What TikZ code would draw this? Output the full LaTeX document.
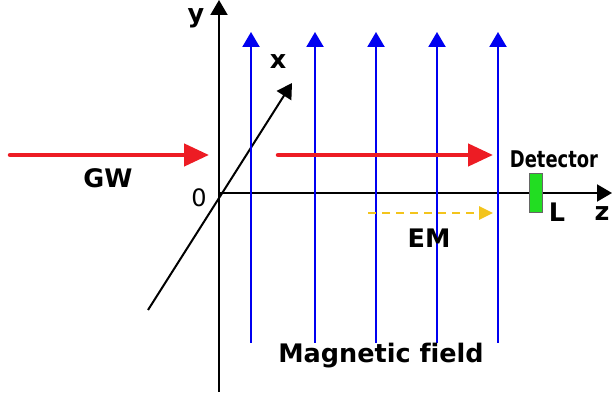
\documentclass[tikz,border=0pt]{standalone}
\usepackage{fontspec}
\setmainfont[Ligatures=NoCommon]{DejaVu Sans}
\newfontfamily\condfont[FakeStretch=0.78]{DejaVu Sans}
\usepackage{xcolor}
\usepackage{tikz}
\usetikzlibrary{arrows.meta,positioning,calc}
\definecolor{gwred}{RGB}{237,28,36}
\definecolor{fieldblue}{RGB}{0,0,240}
\definecolor{emyellow}{RGB}{243,196,28}
\definecolor{detgreen}{RGB}{34,221,34}

\begin{document}
\begin{tikzpicture}[
  x=1pt,y=1pt,
  axis/.style={-{Triangle[length=15pt,width=17pt]}, line width=2pt, draw=black},
  field/.style={-{Triangle[length=15pt,width=17pt]}, line width=2.2pt, draw=fieldblue},
  wave/.style={-{Triangle[length=25pt,width=22pt]}, line width=4.5pt, draw=gwred, line cap=round},
  emwave/.style={-{Triangle[length=14pt,width=13pt]}, line width=2.8pt, draw=emyellow, dash pattern=on 8pt off 6pt},
  lbl/.style={inner sep=0pt, font=\bfseries\fontsize{25.5}{25.5}\selectfont},
  detbox/.style={draw=black!60, line width=1pt, fill=detgreen, minimum width=13pt, minimum height=39pt, inner sep=0pt}
]
\useasboundingbox (0,0) rectangle (612,398);
% axes
\coordinate (O) at (219,205);
\coordinate (ybot) at (219,6);
\coordinate (ytop) at (219,398);
\coordinate (zend) at (612,205);
\coordinate (xbot) at (148,88);
\coordinate (xtop) at (292,315);
\draw[line width=2pt] (ybot) -- (O);
\draw[axis] (O) -- (ytop);
\draw[axis] (O) -- (zend);
\draw[axis] (xbot) -- (xtop);
% magnetic field lines
\foreach \bx [count=\i] in {251,315,376,437,498} {
  \coordinate (b\i) at (\bx,55);
  \coordinate (t\i) at (\bx,366);
  \draw[field] (b\i) -- (t\i);
}
% waves
\coordinate (gwa) at (10,243);
\coordinate (gwb) at (209,243);
\coordinate (gwc) at (278,243);
\coordinate (gwd) at (493,243);
\coordinate (ema) at (368,185);
\coordinate (emb) at (493,185);
\draw[wave] (gwa) -- (gwb);
\draw[wave] (gwc) -- (gwd);
\draw[emwave] (ema) -- (emb);
% detector
\node[detbox] (det) at (535.5,204.5) {};
% labels
\node[lbl] (ylab) at (196,380) {y};
\node[lbl] (xlab) at (278,336) {x};
\node[lbl] (zlab) at (602,184) {z};
\node[inner sep=0pt, font=\fontsize{24}{24}\selectfont] (olab) at (199,200) {0};
\node[lbl] (gwlab) at (108,220) {GW};
\node[lbl] (emlab) at (429,160) {EM};
\node[lbl] (llab) at (557,186) {L};
\node[inner sep=0pt, font=\condfont\bfseries\fontsize{23}{23}\selectfont] (detlab) at (554,239) {Detector};
\node[lbl] (maglab) at (381,42) {Magnetic field};
\end{tikzpicture}
\end{document}
